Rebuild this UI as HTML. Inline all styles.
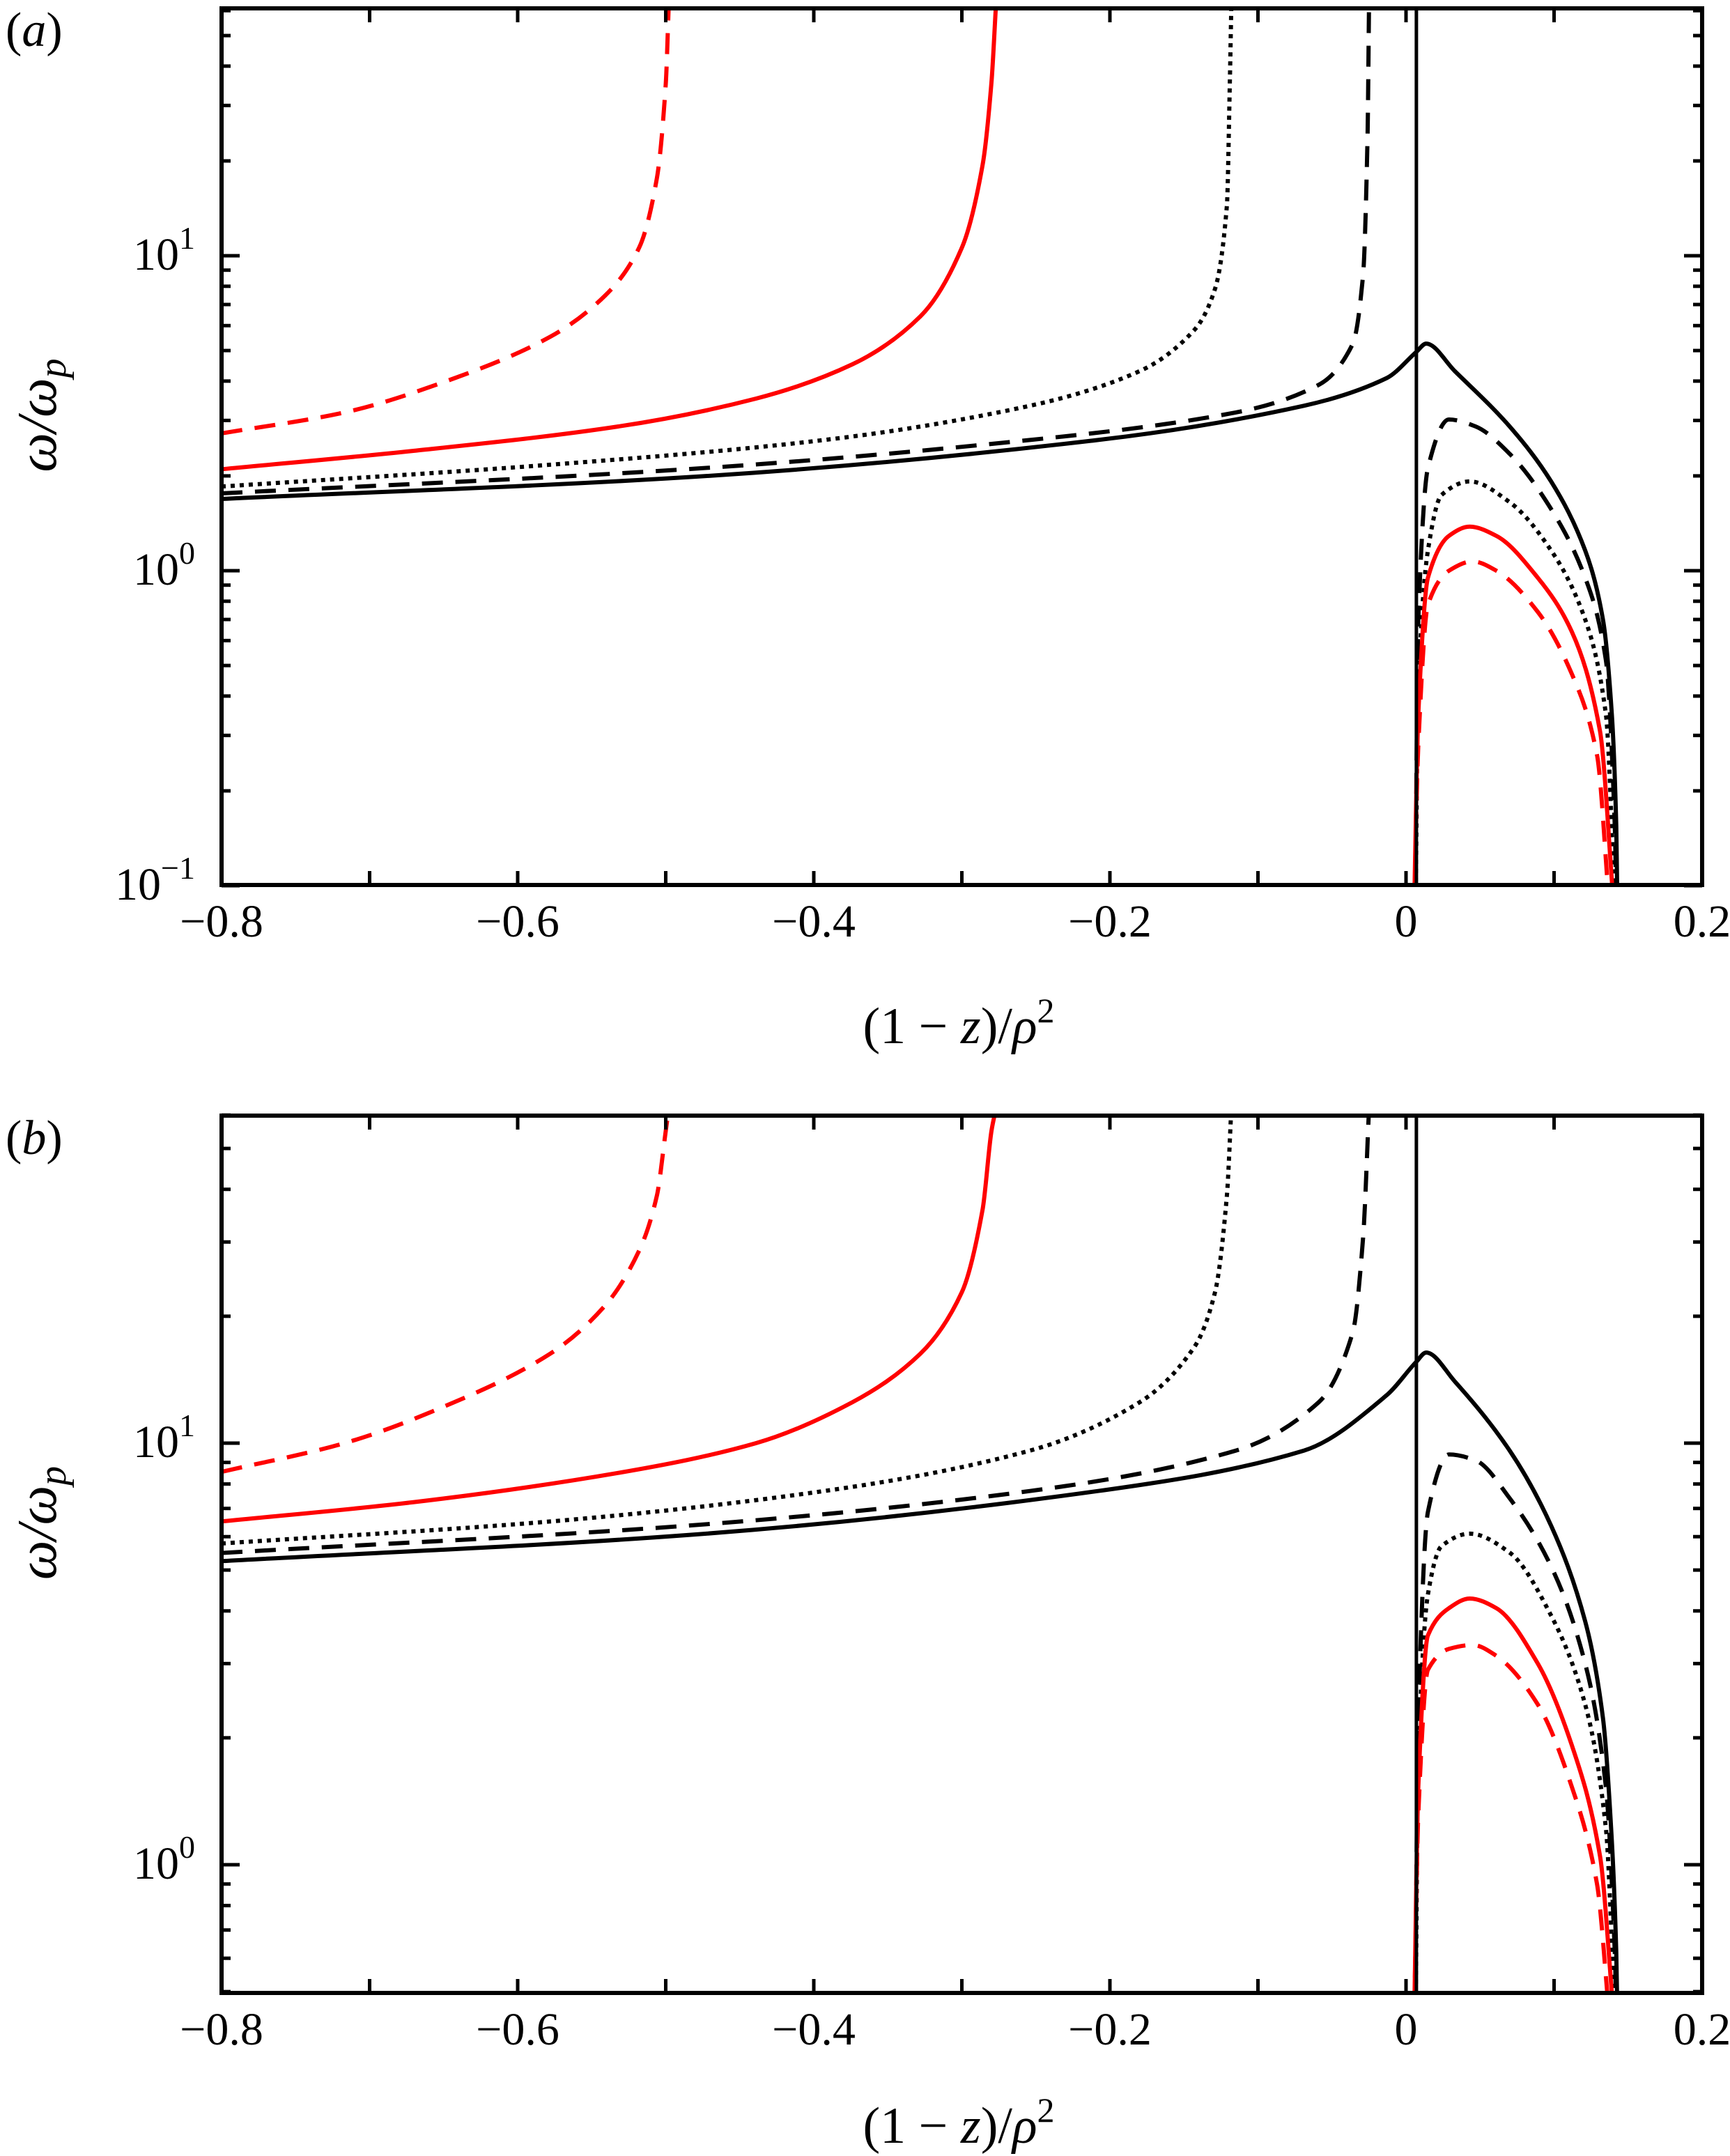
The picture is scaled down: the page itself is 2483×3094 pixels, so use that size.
<!DOCTYPE html>
<html><head><meta charset="utf-8">
<style>
html,body{margin:0;padding:0;background:#fff;}
svg{display:block;}
text{font-family:"Liberation Serif","DejaVu Serif",serif;fill:#000;}
</style></head>
<body>
<svg id="chart" xmlns="http://www.w3.org/2000/svg" width="2483" height="3094" viewBox="0 0 2483 3094"></svg>
<script>
// ---------- data (x = (1-z)/rho^2, y = omega/omega_p) ----------
const xTicks = [-0.8, -0.6, -0.4, -0.2, 0, 0.2];
const xTickLabels = ["\u22120.8", "\u22120.6", "\u22120.4", "\u22120.2", "0", "0.2"];
const verticalLineX = 0.007;

// panel (a)
const aRedDashX = [-0.8,-0.717,-0.643,-0.578,-0.541,-0.518,-0.506,-0.5,-0.498];
const aRedDashY = [2.73,3.18,4.08,5.53,7.47,10.6,17.6,35,62];
const aRedSolidX = [-0.8,-0.671,-0.532,-0.439,-0.374,-0.328,-0.3,-0.286,-0.28,-0.277];
const aRedSolidY = [2.1,2.4,2.87,3.52,4.52,6.42,10.6,19.4,35.5,62];
const aDotX = [-0.8,-0.578,-0.393,-0.254,-0.18,-0.143,-0.129,-0.121,-0.119,-0.118];
const aDotY = [1.85,2.17,2.6,3.34,4.3,5.81,7.85,14.4,35.5,62];
const aDashX = [-0.8,-0.486,-0.254,-0.115,-0.059,-0.036,-0.029,-0.026,-0.025];
const aDashY = [1.76,2.1,2.6,3.18,3.89,5.25,8.69,23.7,62];
const aSolidX = [-0.8,-0.486,-0.208,-0.069,-0.013,0.007,0.0136,0.033,0.07,0.098,0.121,0.133,0.139,0.142,0.1427];
const aSolidY = [1.69,1.98,2.6,3.34,4.09,4.95,5.26,4.3,2.87,1.92,1.16,0.7,0.35,0.155,0.09];
const aDashRX = [0.0065,0.0083,0.0148,0.029,0.047,0.07,0.098,0.121,0.135,0.141,0.142];
const aDashRY = [0.12,0.7,2.12,3.02,2.87,2.35,1.57,0.95,0.52,0.155,0.09];
const aDotRX = [0.0065,0.0083,0.0148,0.024,0.043,0.07,0.098,0.121,0.135,0.141];
const aDotRY = [0.09,0.43,1.16,1.74,1.92,1.65,1.16,0.7,0.35,0.09];
const aRSolidRX = [0.0056,0.0083,0.0148,0.029,0.043,0.061,0.089,0.112,0.131,0.14];
const aRSolidRY = [0.09,0.35,0.95,1.29,1.38,1.29,0.95,0.64,0.31,0.09];
const aRDashRX = [0.0056,0.0083,0.0148,0.029,0.045,0.061,0.089,0.112,0.129,0.137];
const aRDashRY = [0.09,0.28,0.78,1.0,1.07,1.0,0.74,0.47,0.26,0.09];

// panel (b)
const bRedDashX = [-0.8,-0.717,-0.643,-0.578,-0.541,-0.518,-0.506,-0.5,-0.498];
const bRedDashY = [8.55,10,12.5,16.3,21.2,28.6,38.6,55,62];
const bRedSolidX = [-0.8,-0.671,-0.532,-0.439,-0.374,-0.328,-0.3,-0.286,-0.28,-0.277];
const bRedSolidY = [6.52,7.24,8.5,10,12.5,16.3,22.8,35.8,55,62];
const bDotX = [-0.8,-0.578,-0.393,-0.254,-0.18,-0.143,-0.129,-0.121,-0.118];
const bDotY = [5.78,6.52,7.7,9.6,12.5,16.9,22.8,38.6,62];
const bDashX = [-0.8,-0.486,-0.254,-0.115,-0.059,-0.036,-0.029,-0.025];
const bDashY = [5.49,6.37,7.7,9.6,12.5,18.3,30.7,62];
const bSolidX = [-0.8,-0.486,-0.208,-0.069,-0.013,0.007,0.0136,0.033,0.07,0.098,0.121,0.133,0.139,0.142,0.1427];
const bSolidY = [5.25,6.05,7.7,9.6,13.0,15.6,16.4,14.0,9.6,6.37,3.78,2.23,1.14,0.62,0.45];
const bDashRX = [0.0065,0.0083,0.0148,0.029,0.047,0.07,0.098,0.121,0.135,0.141,0.142];
const bDashRY = [0.62,2.23,6.87,9.4,9.1,7.4,5.1,3.0,1.53,0.62,0.45];
const bDotRX = [0.0065,0.0083,0.0148,0.024,0.043,0.07,0.098,0.121,0.135,0.141];
const bDotRY = [0.45,1.78,4.38,5.7,6.1,5.5,3.9,2.4,1.22,0.45];
const bRSolidRX = [0.0056,0.0083,0.0148,0.029,0.043,0.061,0.089,0.112,0.131,0.14];
const bRSolidRY = [0.45,1.53,3.5,4.06,4.28,4.06,3.0,1.92,1.05,0.45];
const bRDashRX = [0.0056,0.0083,0.0148,0.029,0.045,0.061,0.089,0.112,0.129,0.137];
const bRDashRY = [0.45,1.32,2.9,3.25,3.32,3.13,2.4,1.53,0.9,0.45];

const NS = "http://www.w3.org/2000/svg";
const svg = document.getElementById("chart");
function mk(tag, attrs, parent){
  const e = document.createElementNS(NS, tag);
  for (const k in attrs) e.setAttribute(k, attrs[k]);
  (parent||svg).appendChild(e);
  return e;
}

const X0 = 318, X1 = 2443;
function xs(v){ return X0 + (v + 0.8) / 1.0 * (X1 - X0); }

const panels = [
  { name:"a", top:12, bottom:1270, dec1:367, decPx:452, ymin:0.1, ymax:61,
    majors:[-1,0,1], labelY:1344, titleY:1497, tagY:66,
    series:[
      [aRedDashX,aRedDashY,"red","30 18"],
      [aRedSolidX,aRedSolidY,"red",null],
      [aDotX,aDotY,"#000","6 7"],
      [aDashX,aDashY,"#000","30 18"],
      [aSolidX,aSolidY,"#000",null],
      [aDashRX,aDashRY,"#000","30 18"],
      [aDotRX,aDotRY,"#000","6 7"],
      [aRSolidRX,aRSolidRY,"red",null],
      [aRDashRX,aRDashRY,"red","30 18"]
    ]},
  { name:"b", top:1601, bottom:2860, dec1:2071, decPx:605, ymin:0.5, ymax:60,
    majors:[0,1], labelY:2934, titleY:3075, tagY:1656,
    series:[
      [bRedDashX,bRedDashY,"red","30 18"],
      [bRedSolidX,bRedSolidY,"red",null],
      [bDotX,bDotY,"#000","6 7"],
      [bDashX,bDashY,"#000","30 18"],
      [bSolidX,bSolidY,"#000",null],
      [bDashRX,bDashRY,"#000","30 18"],
      [bDotRX,bDotRY,"#000","6 7"],
      [bRSolidRX,bRSolidRY,"red",null],
      [bRDashRX,bRDashRY,"red","30 18"]
    ]}
];

// monotone cubic (Fritsch-Carlson) in pixel space, x increasing
function monotonePath(pts){
  const n = pts.length;
  const d = [], m = new Array(n);
  for (let i=0;i<n-1;i++) d.push((pts[i+1][1]-pts[i][1])/Math.max(1e-6, pts[i+1][0]-pts[i][0]));
  m[0] = d[0]; m[n-1] = d[n-2];
  for (let i=1;i<n-1;i++){
    if (d[i-1]*d[i] <= 0) m[i] = 0;
    else m[i] = 2/(1/d[i-1] + 1/d[i]);
  }
  let s = "M" + pts[0][0].toFixed(1) + "," + pts[0][1].toFixed(1);
  for (let i=0;i<n-1;i++){
    const h = pts[i+1][0]-pts[i][0];
    const c1x = pts[i][0] + h/3, c1y = pts[i][1] + m[i]*h/3;
    const c2x = pts[i+1][0] - h/3, c2y = pts[i+1][1] - m[i+1]*h/3;
    s += " C" + c1x.toFixed(2)+","+c1y.toFixed(1)+" "+c2x.toFixed(2)+","+c2y.toFixed(1)+" "+pts[i+1][0].toFixed(2)+","+pts[i+1][1].toFixed(1);
  }
  return s;
}

panels.forEach(P => {
  const ys = v => P.dec1 - (Math.log10(v) - 1) * P.decPx;
  const g = mk("g", {});
  
  
  const clipId = "clip-" + P.name;
  const cp = mk("clipPath", {id: clipId}, g);
  mk("rect", {x:X0, y:P.top, width:X1-X0, height:P.bottom-P.top}, cp);

  const plot = mk("g", {"clip-path":"url(#"+clipId+")"}, g);
  P.series.forEach((s, i) => {
    const pts = s[0].map((xv, k) => [xs(xv), ys(s[1][k])]);
    const path = mk("path", {d: monotonePath(pts), fill:"none", stroke:s[2], "stroke-width":6, "stroke-linejoin":"round"}, plot);
    if (s[3]) path.setAttribute("stroke-dasharray", s[3]);
    
    
  });
  const vl = mk("line", {x1:xs(verticalLineX), x2:xs(verticalLineX), y1:P.top, y2:P.bottom, stroke:"#000", "stroke-width":5}, plot);
  
  

  const tk = mk("g", {stroke:"#000", "stroke-width":5}, g);
  for (let v=-0.8; v<=0.2001; v+=0.1){
    const x = xs(v);
    mk("line",{x1:x,x2:x,y1:P.bottom,y2:P.bottom-20},tk);
    mk("line",{x1:x,x2:x,y1:P.top,y2:P.top+20},tk);
  }
  const eMin = Math.floor(Math.log10(P.ymin)), eMax = Math.ceil(Math.log10(P.ymax));
  for (let e=eMin; e<=eMax; e++){
    for (let m=1; m<10; m++){
      const v = m*Math.pow(10,e);
      if (v < P.ymin*0.999 || v > P.ymax) continue;
      const y = ys(v), L = m===1 ? 26 : 13;
      mk("line",{x1:X0,x2:X0+L,y1:y,y2:y},tk);
      mk("line",{x1:X1,x2:X1-L,y1:y,y2:y},tk);
    }
  }
  const frame = mk("rect",{x:X0,y:P.top,width:X1-X0,height:P.bottom-P.top,fill:"none",stroke:"#000","stroke-width":6},g);
  
  

  xTicks.forEach((v,i) => {
    const t = mk("text",{x:xs(v), y:P.labelY, "font-size":66, "text-anchor":"middle"}, g);
    t.textContent = xTickLabels[i];
    
    
  });
  P.majors.forEach(e => {
    const y = ys(Math.pow(10,e));
    const t = mk("text",{x:280, y:y+20, "font-size":66, "text-anchor":"end"}, g);
    t.textContent = "10";
    const s = mk("tspan",{dy:-30,"font-size":46}, t);
    s.textContent = e < 0 ? "\u2212" + (-e) : String(e);
    
    
  });

  const xt = mk("text",{x:1376, y:P.titleY, "font-size":74, "text-anchor":"middle"}, g);
  xt.innerHTML = '(1 \u2212 <tspan font-style="italic">z</tspan>)/<tspan font-style="italic">\u03c1</tspan><tspan dy="-30" font-size="50">2</tspan>';
  
  

  const cy = (P.top + P.bottom)/2 - 45;
  const yt = mk("text",{x:0, y:0, "font-size":80, "text-anchor":"middle", "font-style":"italic", transform:"translate(80,"+cy+") rotate(-90)"}, g);
  yt.innerHTML = '\u03c9/\u03c9<tspan dy="14" font-size="56">p</tspan>';
  
  

  const tag = mk("text",{x:8, y:P.tagY, "font-size":70}, g);
  tag.innerHTML = '(<tspan font-style="italic">' + P.name + '</tspan>)';
  
  
});
</script>
</body></html>
